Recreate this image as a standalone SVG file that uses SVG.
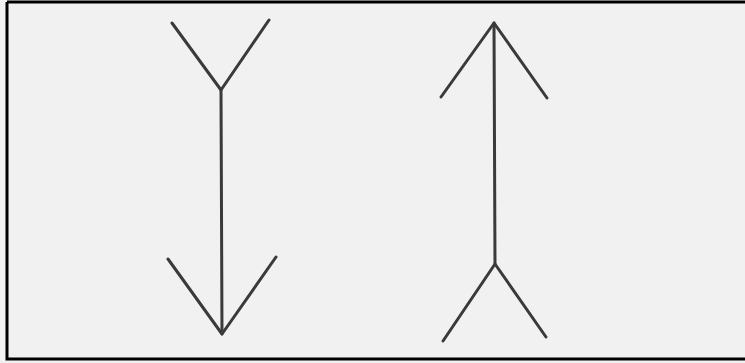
<svg xmlns="http://www.w3.org/2000/svg" width="745" height="363" viewBox="0 0 745 363">
<style>
.ln{stroke:#3a3a3a;stroke-width:3;fill:none;stroke-linecap:round;stroke-linejoin:round}
</style>
<rect x="0" y="0" width="745" height="363" fill="#f1f1f1"/>
<path d="M7,2 H745 M7,2 V359 H745" stroke="#000" stroke-width="3" fill="none"/>
<g id="left-arrow" class="ln">
<path d="M172,23 L221,90 L269,20"/>
<path d="M221,90 L222,334"/>
<path d="M168,259 L222,334 L276,257"/>
</g>
<g id="right-arrow" class="ln">
<path d="M441,97 L494,23 L547,98"/>
<path d="M494,23 L495,264"/>
<path d="M443,341 L495,264 L546,337"/>
</g>
</svg>
